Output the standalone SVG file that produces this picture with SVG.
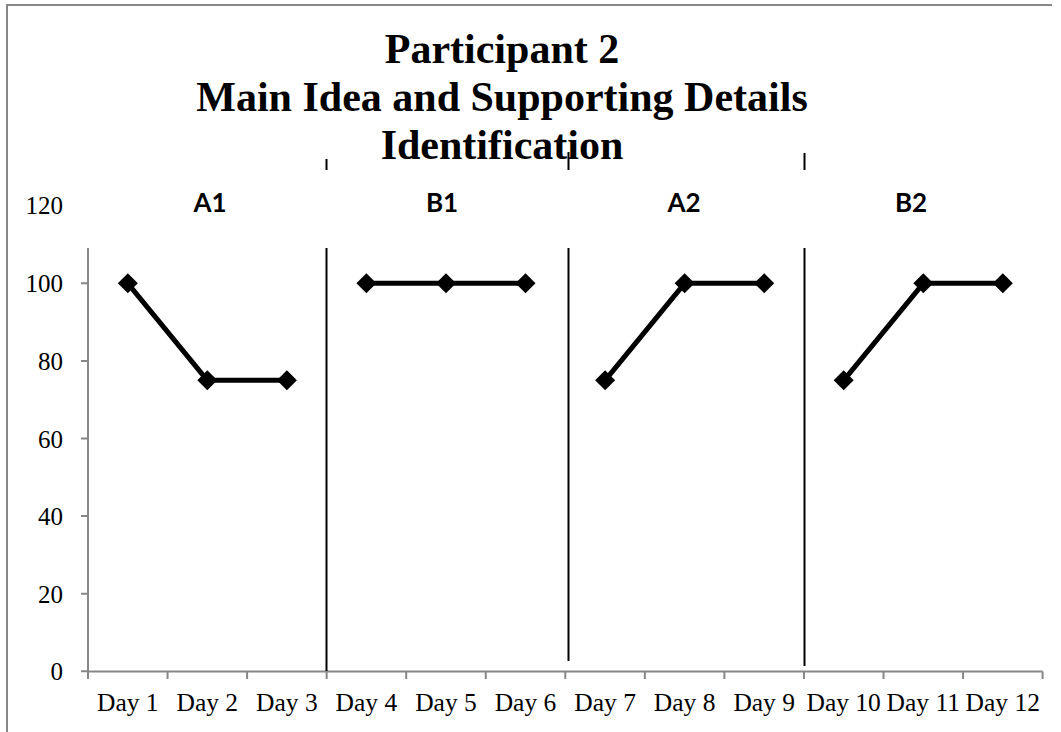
<svg xmlns="http://www.w3.org/2000/svg" width="1061" height="732" viewBox="0 0 1061 732">
<style>
.frame{fill:none;stroke:#878787;stroke-width:2}
.axis{fill:none;stroke:#878787;stroke-width:2}
.phase{stroke:#000;stroke-width:2;fill:none}
.series{fill:none;stroke:#000;stroke-width:5;stroke-linejoin:round}
.title{font-family:"Liberation Serif","Times New Roman",serif;font-weight:bold;font-size:42px;fill:#000;text-anchor:middle}
.ylab{font-family:"Liberation Serif","Times New Roman",serif;font-size:25px;fill:#000;text-anchor:end}
.xlab{font-family:"Liberation Serif","Times New Roman",serif;font-size:25.5px;fill:#000;text-anchor:middle}
.plab{font-family:Lato,"Open Sans",sans-serif;font-weight:bold;font-size:26px;fill:#000;text-anchor:middle}
</style>
<defs>
<path id="dm" d="M0,-10 L10,0 L0,10 L-10,0 Z" fill="#000"/>
</defs>
<rect width="1061" height="732" fill="#fff"/>
<path class="frame" d="M7,732 L7,5 L1052,5"/>
<g id="title">
<text class="title" x="502" y="63">Participant 2</text>
<text class="title" x="502" y="111">Main Idea and Supporting Details</text>
<text class="title" x="502" y="159">Identification</text>
</g>
<g id="y-axis">
<path class="axis" d="M88,248 L88,671.5 M81,671.3 H88 M81,593.7 H88 M81,516.1 H88 M81,438.5 H88 M81,360.9 H88 M81,283.3 H88"/>
<text class="ylab" x="63" y="680">0</text>
<text class="ylab" x="63" y="602.5">20</text>
<text class="ylab" x="63" y="525">40</text>
<text class="ylab" x="63" y="447.5">60</text>
<text class="ylab" x="63" y="370">80</text>
<text class="ylab" x="63" y="292">100</text>
<text class="ylab" x="63" y="214">120</text>
</g>
<g id="x-axis">
<path class="axis" d="M88,671.5 H1042.6 M88,671.5 V679 M167.55,671.5 V679 M247.1,671.5 V679 M326.65,671.5 V679 M406.2,671.5 V679 M485.75,671.5 V679 M565.3,671.5 V679 M644.85,671.5 V679 M724.4,671.5 V679 M803.95,671.5 V679 M883.5,671.5 V679 M963.05,671.5 V679 M1042.6,671.5 V679"/>
<text class="xlab" x="127.8" y="711">Day 1</text>
<text class="xlab" x="207.3" y="711">Day 2</text>
<text class="xlab" x="286.9" y="711">Day 3</text>
<text class="xlab" x="366.4" y="711">Day 4</text>
<text class="xlab" x="446" y="711">Day 5</text>
<text class="xlab" x="525.5" y="711">Day 6</text>
<text class="xlab" x="605.1" y="711">Day 7</text>
<text class="xlab" x="684.6" y="711">Day 8</text>
<text class="xlab" x="764.2" y="711">Day 9</text>
<text class="xlab" x="843.7" y="711">Day 10</text>
<text class="xlab" x="923.3" y="711">Day 11</text>
<text class="xlab" x="1002.8" y="711">Day 12</text>
</g>
<g id="phase-lines">
<path class="phase" d="M326.5,159 V170 M326.5,248 V671"/>
<path class="phase" d="M568.5,152 V170 M568.5,248 V661"/>
<path class="phase" d="M804.5,153 V170 M804.5,248 V666"/>
</g>
<g id="phase-labels">
<text class="plab" x="210" y="212">A1</text>
<text class="plab" x="442" y="212">B1</text>
<text class="plab" x="684" y="212">A2</text>
<text class="plab" x="911" y="212">B2</text>
</g>
<g id="connectors">
<polyline class="series" points="127.8,283.3 207.3,380.3 286.9,380.3"/>
<polyline class="series" points="366.4,283.3 446,283.3 525.5,283.3"/>
<polyline class="series" points="605.1,380.3 684.6,283.3 764.2,283.3"/>
<polyline class="series" points="843.7,380.3 923.3,283.3 1002.8,283.3"/>
</g>
<g id="markers">
<use href="#dm" x="127.8" y="283.3"/>
<use href="#dm" x="207.3" y="380.3"/>
<use href="#dm" x="286.9" y="380.3"/>
<use href="#dm" x="366.4" y="283.3"/>
<use href="#dm" x="446" y="283.3"/>
<use href="#dm" x="525.5" y="283.3"/>
<use href="#dm" x="605.1" y="380.3"/>
<use href="#dm" x="684.6" y="283.3"/>
<use href="#dm" x="764.2" y="283.3"/>
<use href="#dm" x="843.7" y="380.3"/>
<use href="#dm" x="923.3" y="283.3"/>
<use href="#dm" x="1002.8" y="283.3"/>
</g>
</svg>
